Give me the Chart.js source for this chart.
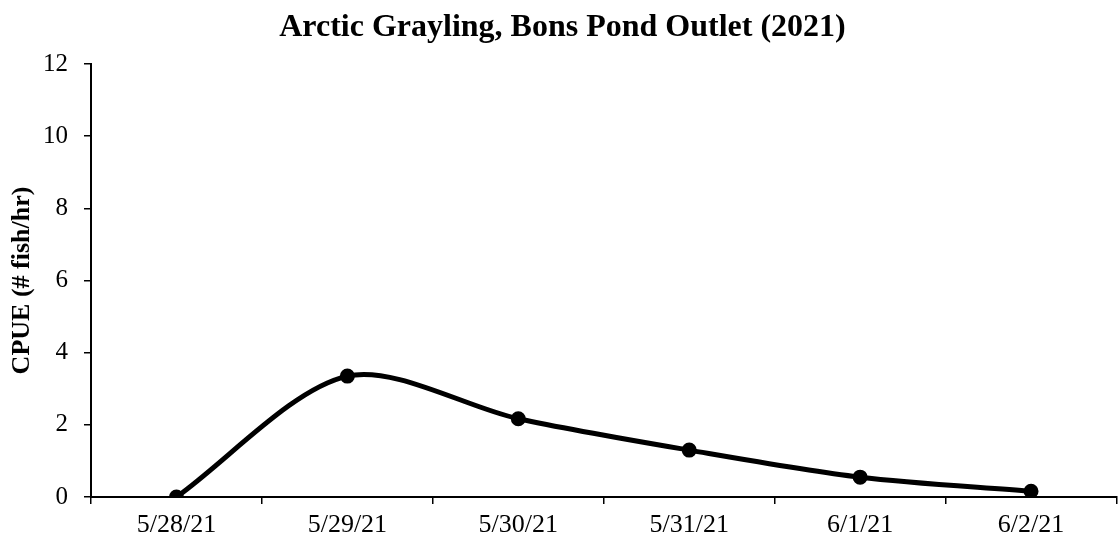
<!DOCTYPE html>
<html>
<head>
<meta charset="utf-8">
<script src="https://cdn.jsdelivr.net/npm/chart.js@4/dist/chart.umd.min.js"></script>
<style>
  html, body { margin: 0; padding: 0; background: #fff; overflow: hidden; }
  #wrap { width: 1125px; height: 540px; }
</style>
</head>
<body>
<div id="wrap"><canvas id="chart" width="1125" height="540"></canvas></div>
<script>
// data
const dates = ['5/28/21', '5/29/21', '5/30/21', '5/31/21', '6/1/21', '6/2/21'];
const cpue = [0, 3.35, 2.17, 1.3, 0.55, 0.16];
const yTicks = [0, 2, 4, 6, 8, 10, 12];

const serif = '"Liberation Serif", "Times New Roman", serif';

new Chart(document.getElementById('chart').getContext('2d'), {
  type: 'line',
  data: {
    labels: dates,
    datasets: [{
      data: cpue,
      borderColor: '#000',
      backgroundColor: '#000',
      borderWidth: 5,
      tension: 0.3,
      pointRadius: 6.5,
      pointBorderWidth: 2,
      pointBackgroundColor: '#000',
      pointBorderColor: '#000',
      fill: false
    }]
  },
  options: {
    responsive: false,
    animation: false,
    plugins: {
      legend: { display: false },
      tooltip: { enabled: false },
      title: {
        display: true,
        text: 'Arctic Grayling, Bons Pond Outlet (2021)',
        color: '#000',
        font: { family: serif, size: 32, weight: 'bold' },
        padding: { top: 9, bottom: 16.6 }
      }
    },
    scales: {
      x: {
        offset: true,
        grid: {
          offset: true,
          drawOnChartArea: false,
          drawTicks: true,
          tickLength: 7,
          color: '#000',
          lineWidth: 1.5
        },
        border: { display: true, color: '#000', width: 2 },
        ticks: {
          color: '#000',
          padding: 6,
          maxRotation: 0,
          font: { family: serif, size: 26 }
        },
        afterFit(scale) { scale.height = 43; }
      },
      y: {
        min: 0,
        max: 12,
        afterBuildTicks(scale) { scale.ticks = yTicks.map(v => ({ value: v })); },
        grid: {
          drawOnChartArea: false,
          drawTicks: true,
          tickLength: 7,
          color: '#000',
          lineWidth: 1.5
        },
        border: { display: true, color: '#000', width: 2 },
        ticks: {
          color: '#000',
          padding: 16,
          font: { family: serif, size: 25 }
        },
        title: {
          display: true,
          text: 'CPUE (# fish/hr)',
          color: '#000',
          font: { family: serif, size: 26, weight: 'bold' },
          padding: { top: 7, bottom: 0 }
        },
        afterFit(scale) { scale.width = 91; }
      }
    }
  }
});
</script>
</body>
</html>
